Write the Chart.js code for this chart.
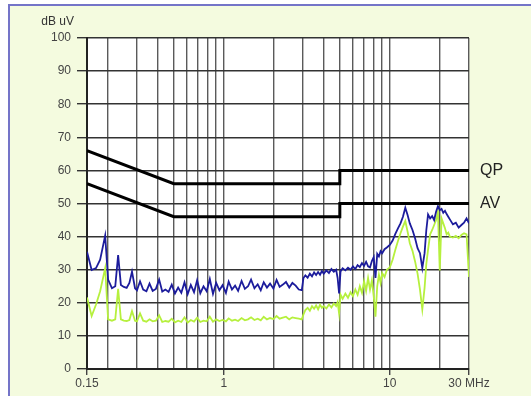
<!DOCTYPE html>
<html>
<head>
<meta charset="utf-8">
<script src="https://cdn.jsdelivr.net/npm/chart.js@4"></script>
<style>
  html, body { margin: 0; padding: 0; background: #fff; }
  #frame { position: absolute; left: 8px; top: 4px; width: 530px; height: 400px;
           background: #f4fbdf; border-top: 2px solid #7474c8; border-left: 2px solid #7474c8; }
  #chart { position: absolute; left: 0; top: 0; }
</style>
</head>
<body>
<div id="frame"></div>
<canvas id="chart" width="531" height="396"></canvas>
<script>
// frequency points (MHz)
const freqs = [
  0.150, 0.160, 0.170, 0.180, 0.193, 0.201, 0.212, 0.222, 0.231, 0.240, 0.250, 0.260, 0.270, 0.280, 0.292,
  0.300, 0.313, 0.327, 0.342, 0.357, 0.373, 0.390, 0.408, 0.426, 0.445, 0.465, 0.486, 0.508, 0.531, 0.555,
  0.580, 0.606, 0.633, 0.662, 0.691, 0.722, 0.755, 0.789, 0.824, 0.861, 0.900, 0.941, 0.983, 1.03, 1.07,
  1.12, 1.17, 1.22, 1.28, 1.34, 1.40, 1.46, 1.53, 1.60, 1.67, 1.74, 1.82, 1.90, 1.99, 2.08,
  2.17, 2.27, 2.37, 2.48, 2.59, 2.71, 2.83, 2.95,
  3.02, 3.10, 3.2, 3.3, 3.4, 3.5, 3.6, 3.7, 3.8, 3.9,
  4.0, 4.15, 4.3, 4.45, 4.6, 4.75, 4.85, 4.95, 5.05, 5.2,
  5.4, 5.6, 5.8, 6.0, 6.2, 6.4, 6.6, 6.8, 7.0, 7.2,
  7.4, 7.6, 7.8, 8.0, 8.2, 8.4, 8.6, 8.8, 9.0, 9.3,
  9.6, 10, 10.4, 10.8, 11.2, 11.6, 12, 12.4, 12.8, 13.2,
  13.7, 14.2, 14.7, 15.2, 15.7, 16.2, 16.6, 17, 17.5, 18,
  18.5, 19, 19.5, 20, 20.5, 21, 21.5, 22, 22.5, 23,
  24, 25, 26, 27, 28, 29, 30
];

// peak trace (blue), dB uV
const peakDb = [
  35.4, 29.9, 30.5, 33.0, 40.3, 27.0, 24.4, 25.0, 34.4, 25.4, 24.8, 24.5, 26.0, 29.4, 24.4,
  23.8, 26.5, 24.0, 23.5, 25.8, 23.6, 24.2, 27.0, 23.4, 24.0, 23.3, 25.5, 22.8, 24.6, 23.0,
  26.2, 22.6, 25.4, 23.2, 26.8, 22.9, 25.0, 23.5, 27.2, 22.7, 26.0, 23.8, 25.3, 23.0, 26.4,
  24.0, 25.2, 23.6, 26.6, 24.2, 25.0, 27.0, 24.4, 25.6, 23.8, 26.2, 24.6, 25.8, 24.3, 26.9,
  24.8, 25.5, 26.3, 24.6, 26.0, 25.2, 24.0, 23.8,
  27.5, 28.3, 27.6, 28.8, 28.0, 29.2, 28.4, 29.3, 28.5, 29.6,
  28.8, 29.8, 29.0, 30.2, 29.4, 30.0, 27.5, 22.8, 29.5, 30.4,
  29.8, 30.6, 30.0, 31.0, 30.2, 31.4, 30.8, 32.0, 31.2, 32.4,
  31.0, 30.7, 32.6, 33.8, 27.5, 34.8, 34.0, 35.6, 35.0, 36.2,
  36.7, 37.5, 38.8, 40.8, 42.5, 44.0, 46.0, 48.7, 46.5, 44.0,
  42.0, 39.5, 36.5, 35.0, 30.5, 35.0, 42.0, 46.7, 45.5, 46.2,
  45.0, 47.5, 49.2, 48.0, 48.4, 47.2, 47.8, 46.8, 46.0, 45.2,
  43.7, 44.2, 42.7, 43.5, 44.2, 45.5, 44.0
];

// average trace (green), dB uV
const avgDb = [
  21.6, 16.0, 19.5, 23.5, 30.5, 15.0, 14.6, 15.0, 24.2, 15.0, 14.6, 14.5, 14.8, 17.5, 14.6,
  14.4, 16.8, 14.6, 14.3, 15.0, 14.4, 14.6, 16.2, 14.2, 14.5, 14.3, 15.2, 14.1, 14.6, 14.2,
  15.6, 14.0, 14.8, 14.3, 15.5, 14.2, 14.6, 14.4, 15.8, 14.3, 15.0, 14.5, 14.8, 14.4, 15.3,
  14.6, 14.9, 14.5, 15.4, 14.7, 15.0, 15.6, 14.8, 15.2, 14.7, 15.8, 15.0, 15.4, 15.1, 16.0,
  15.2, 15.5, 15.8, 15.0, 15.6, 15.4, 15.2, 15.0,
  16.5, 17.8, 18.5, 17.6, 19.0, 18.2, 19.2, 18.0, 19.4, 18.5,
  19.0, 18.3, 19.5, 18.6, 19.8, 19.0, 20.2, 16.8, 22.5, 21.2,
  22.8, 21.5, 23.2, 22.0, 24.0, 22.4, 25.0, 23.0, 26.5, 23.6,
  27.5, 24.0, 26.8, 22.0, 15.8, 25.0, 28.5, 26.0, 29.0, 27.8,
  30.0, 30.7, 33.0, 36.0, 38.7, 41.0, 43.0, 44.7, 41.5, 38.0,
  35.7, 32.5, 28.8, 24.0, 18.0, 24.5, 31.8, 36.0, 40.7, 42.0,
  43.5, 45.0, 47.5, 29.8, 45.5, 44.0, 42.5, 40.7, 41.2, 40.0,
  39.7, 40.2, 39.5, 40.5, 41.0, 40.7, 27.8
];

// limit lines
const limitFreqs = [0.15, 0.5, 5, 5, 30];
const qpLimit = [66, 56, 56, 60, 60];
const avLimit = [56, 46, 46, 50, 50];

const gridFreqs = [0.15, 0.2, 0.3, 0.4, 0.5, 0.6, 0.7, 0.8, 0.9, 1, 2, 3, 4, 5, 6, 7, 8, 9, 10, 20, 30];
const tickLabels = { 0.15: '0.15', 1: '1', 10: '10', 30: '30 MHz' };

const FONT = 'Arial, "Liberation Sans", sans-serif';

function pts(xs, ys) {
  return xs.map((x, i) => ({ x: x, y: ys[i] }));
}

const plotBg = {
  id: 'plotBg',
  beforeDraw(chart) {
    const a = chart.chartArea, c = chart.ctx;
    c.save();
    c.fillStyle = '#ffffff';
    c.fillRect(a.left, a.top, a.right - a.left, a.bottom - a.top);
    c.restore();
  }
};

const extraText = {
  id: 'extraText',
  afterDraw(chart) {
    const c = chart.ctx, a = chart.chartArea, y = chart.scales.y;
    c.save();
    c.fillStyle = '#333';
    c.font = '12px ' + FONT;
    c.textAlign = 'right';
    c.textBaseline = 'middle';
    c.fillText('dB uV', 74, 22);
    c.fillStyle = '#222';
    c.font = '16px ' + FONT;
    c.textAlign = 'left';
    c.fillText('QP', a.right + 11, y.getPixelForValue(qpLimit[4]));
    c.fillText('AV', a.right + 11, y.getPixelForValue(avLimit[4]));
    c.restore();
  }
};

const ctx = document.getElementById('chart').getContext('2d');
const myChart = new Chart(ctx, {
  type: 'line',
  data: {
    datasets: [
      { label: 'QP limit', data: pts(limitFreqs, qpLimit), borderColor: '#000', borderWidth: 3 },
      { label: 'AV limit', data: pts(limitFreqs, avLimit), borderColor: '#000', borderWidth: 3 },
      { label: 'Peak', data: pts(freqs, peakDb), borderColor: '#1c1c9c', borderWidth: 1.8 },
      { label: 'Average', data: pts(freqs, avgDb), borderColor: '#b6f03e', borderWidth: 1.8 }
    ]
  },
  options: {
    responsive: false,
    animation: false,
    elements: { point: { radius: 0 }, line: { tension: 0, fill: false } },
    layout: { padding: { left: 0, top: 38, right: 62, bottom: 0 } },
    plugins: { legend: { display: false }, tooltip: { enabled: false } },
    scales: {
      x: {
        type: 'logarithmic',
        min: 0.15,
        max: 30,
        afterBuildTicks: s => { s.ticks = gridFreqs.map(v => ({ value: v })); },
        afterFit: s => { s.height = 27; },
        grid: {
          color: '#5a5a5a', lineWidth: 1.4, tickLength: 6,
          tickColor: c => (c.tick && tickLabels[c.tick.value]) ? '#444' : 'rgba(0,0,0,0)'
        },
        border: { color: '#222', width: 2 },
        ticks: {
          autoSkip: false, maxRotation: 0, padding: 1,
          color: '#444', font: { family: FONT, size: 12 },
          callback: v => tickLabels[v] || ''
        }
      },
      y: {
        min: 0,
        max: 100,
        afterFit: s => { s.width = 87; },
        grid: { color: '#333', lineWidth: 1.4, tickLength: 10 },
        border: { color: '#222', width: 2 },
        ticks: { stepSize: 10, padding: 6, color: '#444', font: { family: FONT, size: 12 } }
      }
    }
  },
  plugins: [plotBg, extraText]
});
</script>
</body>
</html>
